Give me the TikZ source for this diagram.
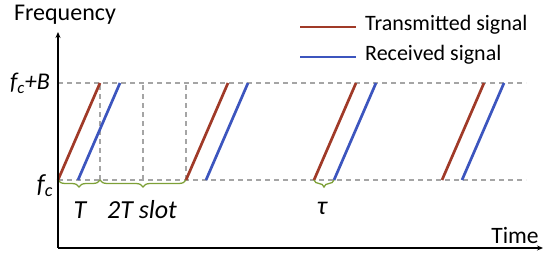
\documentclass[tikz,border=0pt]{standalone}
\usepackage{fontspec}
\setmainfont{Carlito}
\usetikzlibrary{arrows.meta,decorations.pathreplacing}
\definecolor{txred}{RGB}{160,58,40}
\definecolor{rxblue}{RGB}{60,85,190}
\definecolor{brgreen}{RGB}{125,160,55}
\definecolor{dgrey}{RGB}{165,165,165}
\tikzset{
  axisline/.style={line width=1.6pt,-{Stealth[length=6pt,width=5pt]}},
  guide/.style={dgrey,line width=1.2pt,dash pattern=on 5pt off 4pt},
  txline/.style={txred,line width=2.7pt},
  rxline/.style={rxblue,line width=2.7pt},
  bracestyle/.style={brgreen,line width=1.3pt,decorate,decoration={brace,mirror,amplitude=7pt}},
  lbl/.style={inner sep=0pt,font=\fontsize{22}{24}\selectfont},
  ilbl/.style={inner sep=0pt,font=\fontsize{26}{28}\selectfont\itshape},
}
\begin{document}
\begin{tikzpicture}[x=1pt,y=1pt]
\useasboundingbox (0,0) rectangle (550,260);
% origin / coordinates
\coordinate (O) at (58,12);
\coordinate (ytop) at (58,228);
\coordinate (xend) at (543,12);
\coordinate (hl1) at (58,177);
\coordinate (hr1) at (526,177);
\coordinate (hl0) at (58,80);
\coordinate (hr0) at (526,80);
% guides
\draw[guide] (hl1) -- (hr1);
\draw[guide] (hl0) -- (hr0);
\foreach \x [count=\i] in {100,143,186} {
  \coordinate (vb\i) at (\x,80);
  \coordinate (vt\i) at (\x,177);
  \draw[guide] (vb\i) -- (vt\i);
}
% chirps
\foreach \s [count=\i] in {58,186,314,442} {
  \coordinate (ta\i) at (\s,80);
  \coordinate (tb\i) at ({\s+42},177);
  \coordinate (ra\i) at ({\s+20},80);
  \coordinate (rb\i) at ({\s+62},177);
  \draw[txline] (ta\i) -- (tb\i);
  \draw[rxline] (ra\i) -- (rb\i);
}
% braces
\draw[bracestyle] (ta1) -- (vb1);
\draw[bracestyle] (vb1) -- (ta2);
\draw[bracestyle] (ta3) -- (ra3);
% axes
\draw[axisline] (O) -- (ytop);
\draw[axisline] (O) -- (xend);
% labels
\node[inner sep=0pt,font=\fontsize{24}{26}\selectfont] (freq) at (65,245) {Frequency};
\node[inner sep=0pt,font=\fontsize{23.5}{26}\selectfont] (time) at (515,25) {Time};
\node[inner sep=0pt,font=\fontsize{24}{26}\selectfont\itshape] (fcb) at (30,177) {f\textsubscript{c}+B};
\node[ilbl] (fc) at (45,74) {f\textsubscript{c}};
\node[ilbl] (tlab) at (80,50) {T};
\node[ilbl] (slot) at (142,50) {2T slot};
\node[inner sep=0pt,font=\fontsize{26}{28}\selectfont\itshape] (tau) at (322,52) {τ};
% legend
\coordinate (l1a) at (300,233);
\coordinate (l1b) at (356,233);
\coordinate (l2a) at (300,203);
\coordinate (l2b) at (356,203);
\draw[txline] (l1a) -- (l1b);
\draw[rxline] (l2a) -- (l2b);
\node[lbl,anchor=west] (leg1) at (365,235) {Transmitted signal};
\node[lbl,anchor=west] (leg2) at (365,205) {Received signal};
\end{tikzpicture}
\end{document}
